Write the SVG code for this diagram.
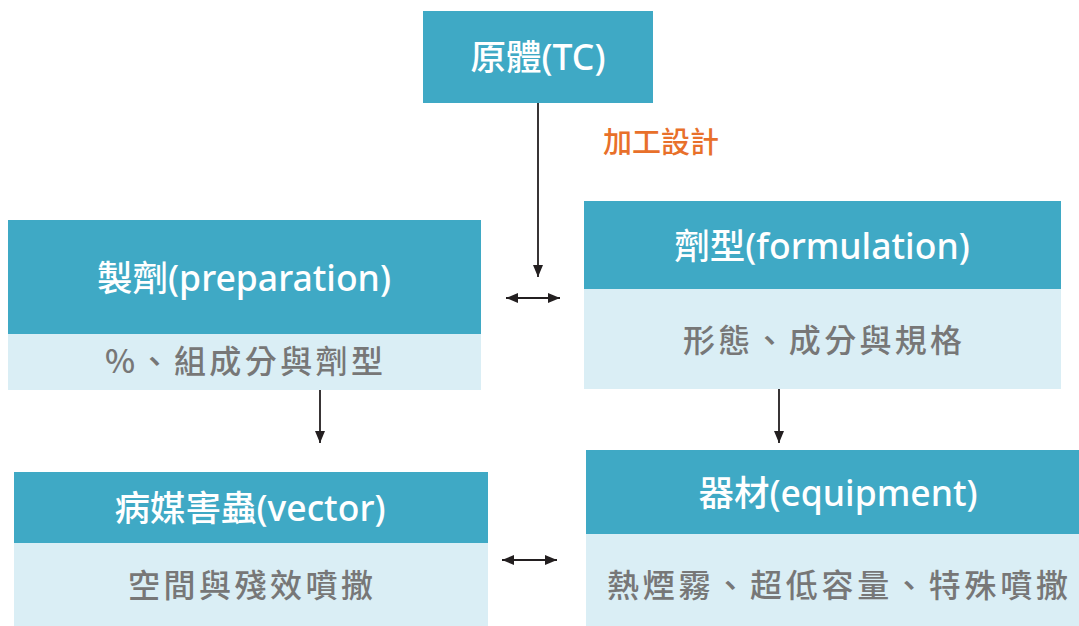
<svg xmlns="http://www.w3.org/2000/svg" width="1079" height="626" viewBox="0 0 1079 626">
<style>
.hd{fill:#3FA9C5}
.bd{fill:#DAEEF5}
.tt{fill:#FFFFFF;font-family:"Noto Sans","Noto Sans CJK TC",sans-serif;font-size:35.5px;font-weight:500;text-anchor:middle}
.st{fill:#777777;font-family:"Noto Sans CJK TC","Noto Sans",sans-serif;font-size:32px;font-weight:500}
.lb{fill:#E8702A;font-family:"Noto Sans CJK TC",sans-serif;font-size:29px;font-weight:500}
.cn{stroke:#231F20;stroke-width:1.8;fill:none}
</style>
<defs>
<marker id="ah" viewBox="0 0 12 10" markerWidth="12" markerHeight="10" refX="12" refY="5" orient="auto-start-reverse" markerUnits="userSpaceOnUse">
<path d="M0,0 L12,5 L0,10 z" fill="#231F20"/>
</marker>
</defs>
<g id="tc">
<rect class="hd" x="423" y="11" width="230" height="92"/>
<text class="tt" x="538" y="70">原體(TC)</text>
</g>
<g id="preparation">
<rect class="hd" x="8" y="220" width="473" height="114"/>
<rect class="bd" x="8" y="334" width="473" height="56"/>
<text class="tt" x="244" y="291">製劑(preparation)</text>
<text class="st" x="105" y="373" textLength="278" lengthAdjust="spacing">%、組成分與劑型</text>
</g>
<g id="formulation">
<rect class="hd" x="584" y="201" width="477" height="88"/>
<rect class="bd" x="584" y="289" width="477" height="100"/>
<text class="tt" x="822" y="259">劑型(formulation)</text>
<text class="st" x="683" y="352" textLength="279" lengthAdjust="spacing">形態、成分與規格</text>
</g>
<g id="vector">
<rect class="hd" x="14" y="472" width="474" height="71"/>
<rect class="bd" x="14" y="543" width="474" height="83"/>
<text class="tt" x="250" y="521">病媒害蟲(vector)</text>
<text class="st" x="128" y="597" textLength="245" lengthAdjust="spacing">空間與殘效噴撒</text>
</g>
<g id="equipment">
<rect class="hd" x="586" y="450" width="493" height="84"/>
<rect class="bd" x="586" y="534" width="493" height="92"/>
<text class="tt" x="838" y="506">器材(equipment)</text>
<text class="st" x="607" y="597" textLength="461" lengthAdjust="spacing">熱煙霧、超低容量、特殊噴撒</text>
</g>
<g id="label">
<text class="lb" x="603" y="153">加工設計</text>
</g>
<g id="connectors">
<line class="cn" x1="538" y1="103" x2="538" y2="277" marker-end="url(#ah)"/>
<line class="cn" x1="506" y1="298" x2="560" y2="298" marker-start="url(#ah)" marker-end="url(#ah)"/>
<line class="cn" x1="320" y1="390" x2="320" y2="443" marker-end="url(#ah)"/>
<line class="cn" x1="779" y1="389" x2="779" y2="443" marker-end="url(#ah)"/>
<line class="cn" x1="502" y1="560" x2="557" y2="560" marker-start="url(#ah)" marker-end="url(#ah)"/>
</g>
</svg>
